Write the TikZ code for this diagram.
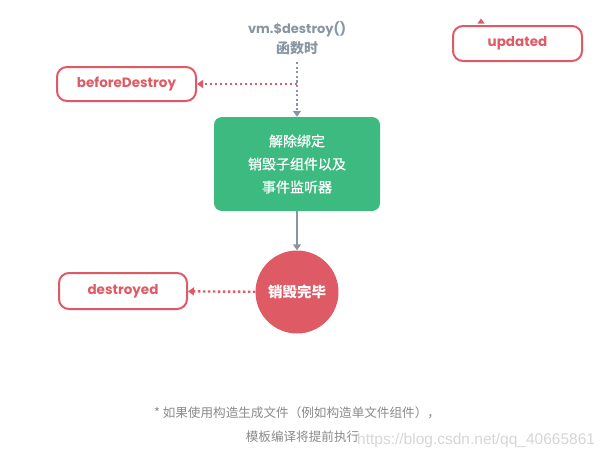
\documentclass[tikz,border=0pt]{standalone}
\usepackage{fontspec}
\setmainfont{Poppins}
\newfontfamily\cjkfont{Noto Sans CJK SC}
\newfontfamily\cjkmid[FakeBold=0.7]{Noto Sans CJK SC}
\newfontfamily\urlfont{Liberation Sans}
\usetikzlibrary{arrows.meta}
\definecolor{hookred}{HTML}{DE5B65}
\definecolor{vuegreen}{HTML}{3DBA7F}
\definecolor{callgray}{HTML}{8796A2}
\definecolor{notegray}{HTML}{8A8A8A}
\definecolor{markgray}{HTML}{D6D6D6}
\tikzset{
  hook/.style={draw=hookred, line width=2pt, rounded corners=10pt, text=hookred,
    inner sep=0pt, font=\bfseries\fontsize{13.5}{15}\selectfont},
  tip/.style={-{Triangle[width=8pt,length=6pt]}},
  reddots/.style={tip, draw=hookred, line width=2.4pt, dash pattern=on 2.4pt off 2.6pt},
  graydots/.style={tip, draw=callgray, line width=1.8pt, dash pattern=on 2.2pt off 2.4pt},
}
\begin{document}
\begin{tikzpicture}[x=1pt, y=-1pt]
        \useasboundingbox (0,0) rectangle (607,458);
        \node (updated) [hook, minimum width=129pt, minimum height=35pt] at (517.5,43.5) {updated};
        \node (before) [hook, minimum width=139pt, minimum height=34pt] at (126.5,84) {beforeDestroy};
        \node (destroyed) [hook, minimum width=128pt, minimum height=36pt] at (123,291) {destroyed};
        \node (call) [text=callgray, align=center, inner sep=1pt,
                font=\bfseries\fontsize{13}{20}\selectfont] at (297,38)
                {vm.\$destroy()\\{\cjkfont\bfseries\fontsize{14}{20}\selectfont 函数时}};
        \node (unbind) [fill=vuegreen, rounded corners=8pt, minimum width=166pt, minimum height=94pt,
                text=white, align=center, inner sep=0pt,
                font=\cjkmid\fontsize{14}{23}\selectfont] at (297,164)
                {解除绑定\\销毁子组件以及\\事件监听器};
        \node (done) [circle, fill=hookred, minimum size=83pt, inner sep=0pt, text=white,
                font=\cjkfont\bfseries\fontsize{14.5}{16}\selectfont] at (297,292) {销毁完毕};
        \coordinate (split) at (297,84);
        \coordinate (callend) at (297,62);
        \draw [graydots] (callend) -- (unbind);
        \draw [reddots] (split) -- (before);
        \draw [tip, draw=callgray, line width=1.8pt] (unbind) -- (done);
        \draw [reddots] (done) -- (destroyed);
        % leftover tip above updated
        \fill [hookred] (477.5,23.5) -- (481,18.5) -- (484.5,23.5) -- cycle;
        \node (note1) [text=notegray, inner sep=0pt, font=\cjkfont\fontsize{12.6}{14}\selectfont]
                at (297,413) {*\ 如果使用构造生成文件（例如构造单文件组件），};
        \node (note2) [text=notegray, inner sep=0pt, font=\cjkfont\fontsize{12.6}{14}\selectfont]
                at (302.5,437) {模板编译将提前执行};
        \node (mark) [text=markgray, inner sep=0pt, anchor=west, font=\urlfont\fontsize{15.5}{17}\selectfont]
                at (357,440) {https://blog.csdn.net/qq\_40665861};
\end{tikzpicture}
\end{document}
